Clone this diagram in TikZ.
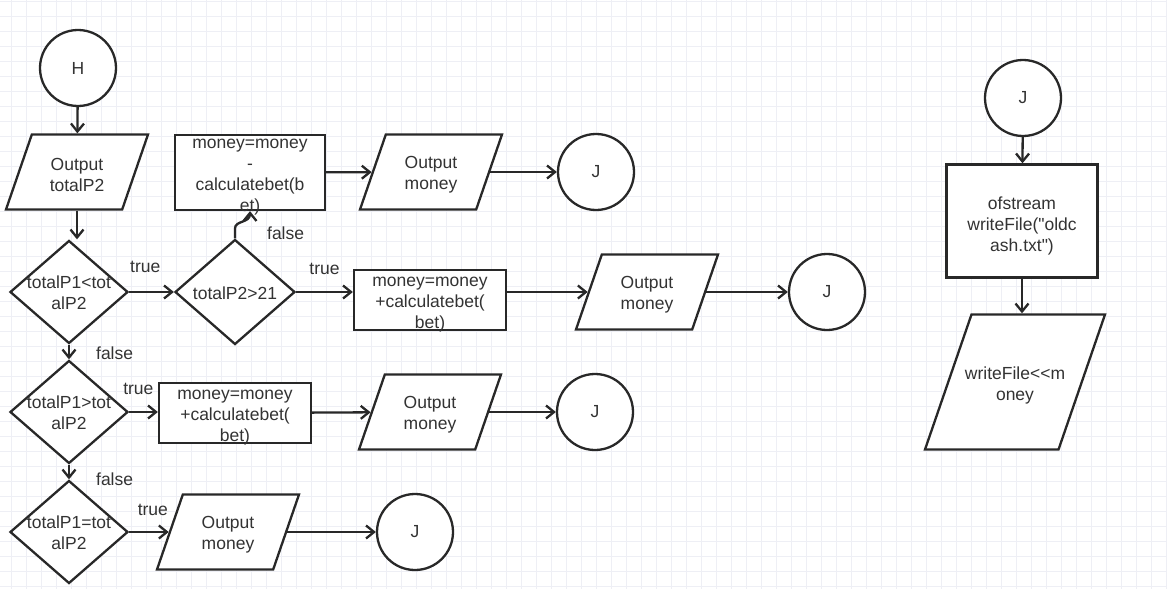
\documentclass[tikz,border=0pt]{standalone}
\usepackage{fontspec}
\setmainfont{Liberation Sans}[Ligatures=TeXOff]
\usepackage{tikz}
\usetikzlibrary{shapes.geometric,arrows.meta,positioning}
\definecolor{gridgray}{RGB}{238,239,245}
\definecolor{inkgray}{RGB}{40,40,40}
\definecolor{txtgray}{RGB}{51,51,51}
\newcommand\FlowFont{\fontsize{17.5}{21}\selectfont}
\newcommand\LineW{2.3pt}
\tikzset{
  dtext/.style={
    align = center,
    inner sep = 0pt
  },
  joint/.style={
    shape = circle,
    draw = inkgray,
    fill = white,
    line width = \LineW,
    minimum size = 76pt,
    inner sep = 0pt
  },
  inout/.style={
    shape = trapezium,
    trapezium left angle = 71,
    trapezium right angle = 109,
    trapezium stretches body,
    draw = inkgray,
    fill = white,
    line width = \LineW,
    minimum width = 142pt,
    inner xsep = 0pt,
    inner ysep = 37.5pt,
    label = {[dtext, yshift=-3pt]center:{#1}}
  },
  procbox/.style={
    shape = rectangle,
    draw = inkgray,
    fill = white,
    line width = \LineW,
    minimum width = 152pt,
    minimum height = 60pt,
    inner sep = 0pt,
    label = {[dtext, yshift=-5pt]center:{#1}}
  },
  decision/.style={
    shape = diamond,
    draw = inkgray,
    fill = white,
    line width = \LineW,
    minimum width = 118pt,
    minimum height = 103pt,
    inner sep = 0pt,
    label = {[dtext, yshift=-1pt]center:{#1}}
  },
  branch/.style={
    inner sep = 1pt
  },
  flow/.style={
    draw = inkgray,
    line width = \LineW,
    -{Straight Barb[length=8pt,width=13pt]}
  },
  gridline/.style={
    draw = gridgray,
    line width = 0.7pt
  }
}

\begin{document}
\begin{tikzpicture}[x=1pt, y=-1pt, every node/.style={font=\FlowFont, text=txtgray}]
    \useasboundingbox (0,0) rectangle (1167,589);
    \fill[white] (0,0) rectangle (1167,589);
    % background grid
    \foreach \gx in {11,26,...,1166} {\draw[gridline] (\gx,0) -- (\gx,589);}
    \foreach \gy in {1,16,...,589} {\draw[gridline] (0,\gy) -- (1167,\gy);}

    % left column
    \node[joint] (hStart) at (78,68) {H};
    \node[inout={Output\\totalP2}] (outTotal) at (77,172) {};
    \node[decision={totalP1<tot\\alP2}] (cmpLess) at (69,292) {};
    \node[decision={totalP1>tot\\alP2}] (cmpMore) at (69,412) {};
    \node[decision={totalP1=tot\\alP2}] (cmpEq) at (69,532) {};
    \node[decision={totalP2>21}, minimum width=120pt, minimum height=105pt] (cmpBust) at (235,292) {};

    % top row
    \node[procbox={money=money\\-\\calculatebet(b\\et)}, minimum width=150pt, minimum height=75pt] (topBox) at (250,172.5) {};
    \node[inout={Output\\money}] (topOut) at (431,172) {};
    \node[joint] (topJ) at (596,172) {J};

    % row 1
    \node[procbox={money=money\\+calculatebet(\\bet)}] (rowOneBox) at (430,300) {};
    \node[inout={Output\\money}] (rowOneOut) at (647,292) {};
    \node[joint] (rowOneJ) at (827,292) {J};

    % row 2
    \node[procbox={money=money\\+calculatebet(\\bet)}] (rowTwoBox) at (235,413) {};
    \node[inout={Output\\money}] (rowTwoOut) at (430,412) {};
    \node[joint] (rowTwoJ) at (595,412) {J};

    % row 3
    \node[inout={Output\\money}] (rowThreeOut) at (228,532) {};
    \node[joint] (rowThreeJ) at (415,532) {J};

    % right column
    \node[joint] (fileJ) at (1023,98) {J};
    \node[procbox={ofstream\\writeFile("oldc\\ash.txt")}, minimum width=151pt, minimum height=113pt] (fileOpen) at (1022,221) {};
    \node[inout={writeFile<<m\\oney}, minimum width=180pt, inner ysep=67.5pt] (fileWrite) at (1015,382) {};

    % connectors
    \draw[flow] (hStart) -- (outTotal);
    \draw[flow] (outTotal.south) -- (outTotal.south |- cmpLess.north);
    \draw[flow] (cmpLess) -- node[branch, pos=0.36, above=17pt] {true} (cmpBust);
    \draw[flow] (cmpBust.east) -- node[branch, pos=0.5, above=15pt] {true} (cmpBust.east -| rowOneBox.west);
    \draw[flow] (cmpBust.north) -- node[branch, right=30pt] {false} ++(0,-10)
        .. controls +(0,-8) and +(0,12) .. (topBox.south);
    \draw[flow] (topBox) -- (topOut);
    \draw[flow] (topOut) -- (topJ);
    \draw[flow] (rowOneBox.east |- rowOneOut.west) -- (rowOneOut.west);
    \draw[flow] (rowOneOut) -- (rowOneJ);
    \draw[flow] (cmpLess) -- node[branch, pos=0.6, right=25pt] {false} (cmpMore);
    \draw[flow] (cmpMore) -- node[branch, pos=0.32, above=15pt] {true} (cmpMore -| rowTwoBox.west);
    \draw[flow] (rowTwoBox) -- (rowTwoOut);
    \draw[flow] (rowTwoOut) -- (rowTwoJ);
    \draw[flow] (cmpMore) -- node[branch, pos=1, right=25pt] {false} (cmpEq);
    \draw[flow] (cmpEq) -- node[branch, pos=0.6, above=14pt] {true} (rowThreeOut);
    \draw[flow] (rowThreeOut) -- (rowThreeJ);
    \draw[flow] (fileJ) -- (fileOpen);
    \draw[flow] (fileOpen.south) -- (fileOpen.south |- fileWrite.north);
\end{tikzpicture}
\end{document}
